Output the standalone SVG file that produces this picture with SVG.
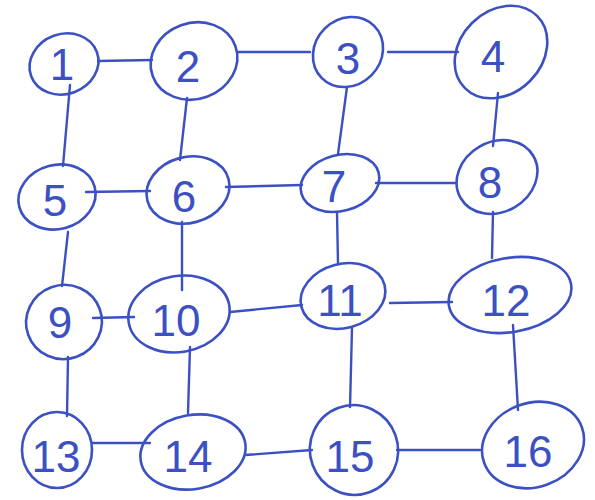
<svg xmlns="http://www.w3.org/2000/svg" width="595" height="500" viewBox="0 0 595 500">
<style>
.n ellipse{fill:none;stroke:#3b50c2;stroke-width:2.6}
.n text{font-family:"Liberation Sans","DejaVu Sans",sans-serif;font-size:44px;fill:#3b50c2;text-anchor:middle;dominant-baseline:central}
#edges line{stroke:#3b50c2;stroke-width:2.4;stroke-linecap:round}
</style>
<rect width="595" height="500" fill="#ffffff"/>
<g id="edges">
<line x1="98" y1="61" x2="152" y2="60"/>
<line x1="238" y1="52" x2="310" y2="52"/>
<line x1="388" y1="52" x2="458" y2="52"/>
<line x1="70" y1="85" x2="63" y2="166"/>
<line x1="187" y1="98" x2="180" y2="160"/>
<line x1="347" y1="87" x2="338" y2="154"/>
<line x1="498" y1="93" x2="493" y2="146"/>
<line x1="86" y1="192" x2="150" y2="191"/>
<line x1="226" y1="187" x2="302" y2="185"/>
<line x1="376" y1="183" x2="455" y2="183"/>
<line x1="68" y1="232" x2="62" y2="286"/>
<line x1="182" y1="222" x2="182" y2="290"/>
<line x1="337" y1="212" x2="338" y2="264"/>
<line x1="493" y1="212" x2="492" y2="258"/>
<line x1="93" y1="318" x2="134" y2="317"/>
<line x1="230" y1="312" x2="302" y2="305"/>
<line x1="390" y1="303" x2="452" y2="302"/>
<line x1="68" y1="357" x2="67" y2="416"/>
<line x1="190" y1="347" x2="188" y2="413"/>
<line x1="352" y1="328" x2="350" y2="407"/>
<line x1="513" y1="325" x2="518" y2="410"/>
<line x1="92" y1="443" x2="150" y2="443"/>
<line x1="245" y1="455" x2="312" y2="450"/>
<line x1="397" y1="450" x2="480" y2="450"/>
</g>
<g id="node1" class="n"><ellipse cx="64" cy="64" rx="35" ry="30" transform="rotate(-20 64 64)"/><text x="62" y="64">1</text></g>
<g id="node2" class="n"><ellipse cx="194" cy="61" rx="44" ry="38" transform="rotate(-20 194 61)"/><text x="188" y="66">2</text></g>
<g id="node3" class="n"><ellipse cx="348" cy="52" rx="37" ry="33" transform="rotate(-45 348 52)"/><text x="348" y="58">3</text></g>
<g id="node4" class="n"><ellipse cx="501" cy="52" rx="51" ry="41" transform="rotate(-45 501 52)"/><text x="493" y="56">4</text></g>
<g id="node5" class="n"><ellipse cx="57" cy="197" rx="39" ry="32" transform="rotate(-15 57 197)"/><text x="55" y="200">5</text></g>
<g id="node6" class="n"><ellipse cx="188" cy="190" rx="42" ry="33" transform="rotate(-15 188 190)"/><text x="184" y="196">6</text></g>
<g id="node7" class="n"><ellipse cx="340" cy="183" rx="40" ry="28" transform="rotate(-15 340 183)"/><text x="334" y="186">7</text></g>
<g id="node8" class="n"><ellipse cx="497" cy="177" rx="42" ry="35" transform="rotate(-30 497 177)"/><text x="490" y="182">8</text></g>
<g id="node9" class="n"><ellipse cx="64" cy="322" rx="38" ry="37" transform="rotate(-20 64 322)"/><text x="60" y="322">9</text></g>
<g id="node10" class="n"><ellipse cx="179" cy="314" rx="51" ry="38" transform="rotate(-10 179 314)"/><text x="176" y="320">10</text></g>
<g id="node11" class="n"><ellipse cx="343" cy="296" rx="43" ry="32" transform="rotate(-15 343 296)"/><text x="340" y="300">11</text></g>
<g id="node12" class="n"><ellipse cx="510" cy="295" rx="62" ry="37" transform="rotate(-10 510 295)"/><text x="506" y="300">12</text></g>
<g id="node13" class="n"><ellipse cx="57" cy="450" rx="35" ry="38"/><text x="56" y="456">13</text></g>
<g id="node14" class="n"><ellipse cx="193" cy="452" rx="53" ry="37" transform="rotate(-10 193 452)"/><text x="188" y="456">14</text></g>
<g id="node15" class="n"><ellipse cx="354" cy="450" rx="44" ry="45" transform="rotate(-20 354 450)"/><text x="350" y="456">15</text></g>
<g id="node16" class="n"><ellipse cx="533" cy="445" rx="52" ry="42" transform="rotate(-20 533 445)"/><text x="528" y="451">16</text></g>
</svg>
